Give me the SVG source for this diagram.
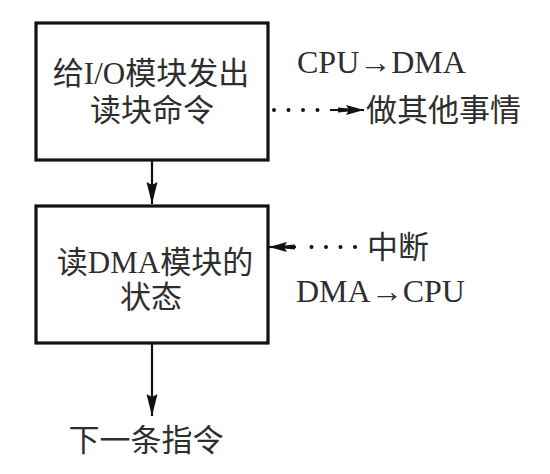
<svg xmlns="http://www.w3.org/2000/svg" width="550" height="474" viewBox="0 0 550 474">
<defs>
<marker id="ah" viewBox="0 0 22 12" refX="22" refY="6" markerWidth="22" markerHeight="12" markerUnits="userSpaceOnUse" orient="auto">
<path d="M0,0.5 L22,6 L0,11.5 L3,6 Z" fill="#111"/>
</marker>
<marker id="ahw" viewBox="0 0 26 12" refX="26" refY="6" markerWidth="26" markerHeight="12" markerUnits="userSpaceOnUse" orient="auto">
<path d="M0,3.5 L26,6 L0,8.5 Z" fill="#111"/>
<path d="M8,1 L26,6 L8,11 L11,6 Z" fill="#111"/>
</marker>
<style>
.box{fill:#fff;stroke:#111;stroke-width:3.2}
.t{font-family:"Liberation Serif","Noto Sans CJK SC",serif;font-size:31px;fill:#2e2e2e}
.c{text-anchor:middle}
.l{font-size:32px}
.ln{stroke:#111;stroke-width:2.2;fill:none}
.dot{stroke:#111;stroke-width:4;stroke-linecap:round;stroke-dasharray:0 14.5;fill:none}
</style>
</defs>
<g id="connectors">
<line class="ln" x1="152" y1="161" x2="152" y2="204" marker-end="url(#ah)"/>
<line class="ln" x1="152" y1="344" x2="152" y2="416" marker-end="url(#ah)"/>
<path class="dot" d="M274,110 H331"/>
<line class="ln" x1="330" y1="110" x2="364" y2="110" marker-end="url(#ahw)"/>
<path class="dot" d="M355,247 H297"/>
<line class="ln" x1="296" y1="247" x2="269" y2="247" marker-end="url(#ahw)"/>
</g>
<g id="node1">
<rect class="box" x="36" y="23" width="232" height="137"/>
<text class="t c" x="151" y="84">给I/O模块发出</text>
<text class="t c" x="152" y="121">读块命令</text>
</g>
<g id="node2">
<rect class="box" x="36" y="206" width="232" height="137"/>
<text class="t c" x="155" y="273">读DMA模块的</text>
<text class="t c" x="151" y="308">状态</text>
</g>
<g id="labels">
<text class="t l" x="297" y="73">CPU→DMA</text>
<text class="t" x="366" y="121">做其他事情</text>
<text class="t" x="367" y="258">中断</text>
<text class="t l" x="296" y="302">DMA→CPU</text>
<text class="t c" x="146" y="451">下一条指令</text>
</g>
</svg>
